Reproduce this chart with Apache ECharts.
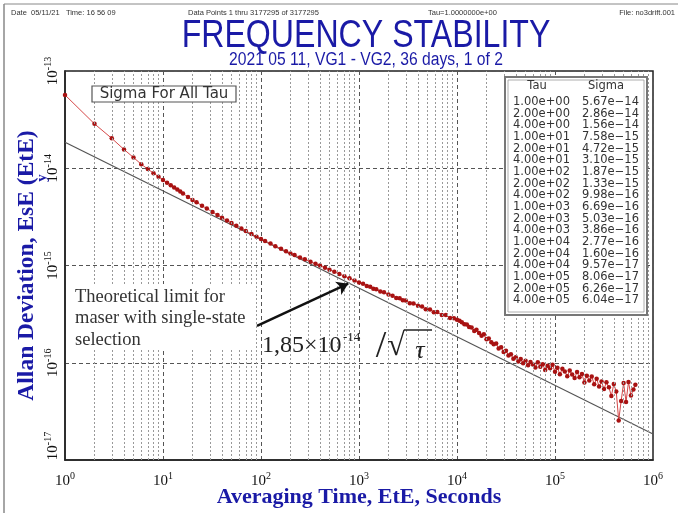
<!DOCTYPE html>
<html><head><meta charset="utf-8">
<script src="https://cdn.jsdelivr.net/npm/echarts@6/dist/echarts.min.js"></script>
<style>html,body{margin:0;padding:0;background:#fff}#c{width:678px;height:513px}</style>
</head><body><div id="c"></div>
<script>
// ---- data ----
const tau = [1,2,3,4,5,6,7,8,9,10,
 11,12,13,14,15,16,18,20,22,25,28,32,36,40,45,50,56,63,70,80,90,100,110,125,140,160,180,200,220,250,280,320,360,400,450,500,560,630,710,800,900,1000,
 1100,1200,1300,1400,1500,1650,1800,2000,2200,2400,2600,2800,3000,3300,3600,4000,4400,4800,5300,5800,6300,7000,7700,8500,9300,10000,
 10600,11200,11900,12600,13300,14100,15000,15800,16800,17800,18800,20000,21100,22400,23700,25100,26600,28200,29900,31600,33500,35500,37600,39800,42200,44700,47300,50100,53100,56200,59600,63100,66800,70800,75000,79400,84100,89100,94400,100000,
 105900,112200,118900,125900,133400,141300,149600,158500,167900,177800,188400,199500,211300,223900,237100,251200,266100,281800,298500,316200,335000,354800,375800,398100,421700,446700,473200,501200,530900,562300,595700,631000,660700];
const sigma = [5.67e-14,2.86e-14,2.03e-14,1.56e-14,1.29e-14,1.10e-14,9.8e-15,8.9e-15,8.2e-15,7.58e-15,
 7.11e-15,6.70e-15,6.34e-15,6.03e-15,5.75e-15,5.50e-15,5.07e-15,4.72e-15,4.46e-15,4.12e-15,3.85e-15,3.55e-15,3.30e-15,3.10e-15,2.90e-15,2.73e-15,2.56e-15,2.40e-15,2.27e-15,2.11e-15,1.98e-15,1.87e-15,1.79e-15,1.68e-15,1.58e-15,1.49e-15,1.40e-15,1.33e-15,1.28e-15,1.21e-15,1.16e-15,1.09e-15,1.04e-15,9.98e-16,9.48e-16,9.06e-16,8.61e-16,8.18e-16,7.77e-16,7.38e-16,7.00e-16,6.69e-16,
 6.48e-16,6.15e-16,6.05e-16,5.78e-16,5.71e-16,5.40e-16,5.31e-16,5.03e-16,4.90e-16,4.64e-16,4.60e-16,4.38e-16,4.36e-16,4.10e-16,4.06e-16,3.86e-16,3.78e-16,3.55e-16,3.53e-16,3.31e-16,3.32e-16,3.10e-16,3.09e-16,2.88e-16,2.87e-16,2.77e-16,
 2.70e-16,2.61e-16,2.49e-16,2.47e-16,2.33e-16,2.30e-16,2.12e-16,2.18e-16,2.02e-16,1.90e-16,1.96e-16,1.74e-16,1.78e-16,1.62e-16,1.55e-16,1.58e-16,1.40e-16,1.44e-16,1.29e-16,1.33e-16,1.19e-16,1.22e-16,1.10e-16,1.14e-16,1.03e-16,1.09e-16,9.86e-17,1.05e-16,9.40e-17,1.02e-16,9.58e-17,8.95e-17,1.01e-16,9.12e-17,9.65e-17,8.41e-17,9.30e-17,8.80e-17,9.52e-17,8.06e-17,
 8.90e-17,7.62e-17,8.70e-17,8.15e-17,7.28e-17,8.32e-17,7.55e-17,6.95e-17,8.05e-17,7.10e-17,7.64e-17,6.26e-17,7.35e-17,6.58e-17,7.20e-17,6.02e-17,6.85e-17,5.70e-17,6.40e-17,5.36e-17,6.30e-17,5.60e-17,4.55e-17,6.04e-17,5.05e-17,2.55e-17,4.05e-17,6.20e-17,3.95e-17,6.35e-17,4.60e-17,5.30e-17,5.95e-17];
const theoryTau = [1, 1e6];
const theorySigma = [1.85e-14, 1.85e-17];
const tableTau = ['1.00e+00','2.00e+00','4.00e+00','1.00e+01','2.00e+01','4.00e+01','1.00e+02','2.00e+02','4.00e+02','1.00e+03','2.00e+03','4.00e+03','1.00e+04','2.00e+04','4.00e+04','1.00e+05','2.00e+05','4.00e+05'];
const tableSigma = ['5.67e\u221214','2.86e\u221214','1.56e\u221214','7.58e\u221215','4.72e\u221215','3.10e\u221215','1.87e\u221215','1.33e\u221215','9.98e\u221216','6.69e\u221216','5.03e\u221216','3.86e\u221216','2.77e\u221216','1.60e\u221216','9.57e\u221217','8.06e\u221217','6.26e\u221217','6.04e\u221217'];
const xRange = [1, 1e6];
const yRange = [1e-17, 1e-13];
const arrowFrom = [91, 2.4e-16];
const arrowTo = [775, 6.5e-16];

// ---- chart ----
const BLUE = '#1a1aa6';
const SERIF = '"Liberation Serif","Times New Roman",serif';
const SANS = '"Liberation Sans",Arial,sans-serif';

const minorLines = [];
for (let k = 0; k < 6; k++) for (let m = 2; m <= 9; m++) minorLines.push({xAxis: m * Math.pow(10, k)});
for (let k = -17; k < -13; k++) for (let m = 2; m <= 9; m++) minorLines.push({yAxis: m * Math.pow(10, k)});

function supLabel(v) {
  const e = Math.round(Math.log10(v));
  return '{b|10}{s|' + e + '}';
}
function yLabel(v) {
  const e = Math.round(Math.log10(v));
  if (e === -17) return '{pad| }{b|10}{s|' + e + '}';
  return '{b|10}{s|' + e + '}';
}
const labRich = {
  b: {fontFamily: SERIF, fontSize: 15, color: '#111', lineHeight: 18, verticalAlign: 'bottom'},
  s: {fontFamily: SERIF, fontSize: 10, color: '#111', lineHeight: 10, verticalAlign: 'top'},
  pad: {width: 28, fontSize: 10}
};

const graphics = [];
// page frame
graphics.push({type: 'line', shape: {x1: 4, y1: 4, x2: 678, y2: 4}, style: {stroke: '#888', lineWidth: 1}, z: 100});
graphics.push({type: 'line', shape: {x1: 4, y1: 4, x2: 4, y2: 513}, style: {stroke: '#888', lineWidth: 1.5}, z: 100});
// header
const hdr = (t, x, align) => ({type: 'text', x: x, y: 13, z: 100, style: {text: t, font: '7.5px ' + SANS, fill: '#333', textAlign: align, align: align, textVerticalAlign: 'middle', verticalAlign: 'middle'}});
graphics.push(hdr('Date  05/11/21   Time: 16 56 09', 11, 'left'));
graphics.push(hdr('Data Points 1 thru 3177295 of 3177295', 188, 'left'));
graphics.push(hdr('Tau=1.0000000e+00', 428, 'left'));
graphics.push(hdr('File: no3drift.001', 675, 'right'));
// title
graphics.push({type: 'text', x: 366, y: 37, scaleX: 0.845, z: 100, style: {text: 'FREQUENCY STABILITY', font: '38px ' + SANS, fill: BLUE, textAlign: 'center', align: 'center', textVerticalAlign: 'middle', verticalAlign: 'middle'}});
graphics.push({type: 'text', x: 366, y: 60, scaleX: 0.87, z: 100, style: {text: '2021 05 11, VG1 - VG2, 36 days, 1 of 2', font: '18px ' + SANS, fill: BLUE, textAlign: 'center', align: 'center', textVerticalAlign: 'middle', verticalAlign: 'middle'}});
// y subscript near axis name
graphics.push({type: 'text', x: 42, y: 178, rotation: Math.PI / 2, z: 100, style: {text: 'y', font: 'bold 15px ' + SERIF, fill: BLUE, textAlign: 'center', align: 'center', textVerticalAlign: 'middle', verticalAlign: 'middle'}});
// legend box
graphics.push({type: 'rect', shape: {x: 92, y: 86, width: 144, height: 16}, style: {fill: '#fff', stroke: '#555', lineWidth: 1.2}, z: 100});
graphics.push({type: 'text', x: 164, y: 94.5, z: 101, style: {text: 'Sigma For All Tau', font: '15px "DejaVu Sans",sans-serif', fill: '#333', textAlign: 'center', align: 'center', textVerticalAlign: 'middle', verticalAlign: 'middle'}});
// table
graphics.push({type: 'rect', shape: {x: 505, y: 77, width: 142, height: 238}, style: {fill: '#fff', stroke: '#777', lineWidth: 2}, z: 100});
graphics.push({type: 'rect', shape: {x: 508, y: 80, width: 136, height: 232}, style: {fill: 'none', stroke: '#999', lineWidth: 0.8}, z: 100});
const tfont = '11.5px "DejaVu Sans",sans-serif';
graphics.push({type: 'text', x: 537, y: 86, z: 101, style: {text: 'Tau', font: tfont, fill: '#333', textAlign: 'center', align: 'center', textVerticalAlign: 'middle', verticalAlign: 'middle'}});
graphics.push({type: 'text', x: 606, y: 86, z: 101, style: {text: 'Sigma', font: tfont, fill: '#333', textAlign: 'center', align: 'center', textVerticalAlign: 'middle', verticalAlign: 'middle'}});
tableTau.forEach((t, i) => {
  const y = 102 + i * 11.66;
  graphics.push({type: 'text', x: 513, y: y, z: 101, style: {text: t, font: tfont, fill: '#333', textAlign: 'left', align: 'left', textVerticalAlign: 'middle', verticalAlign: 'middle'}});
  graphics.push({type: 'text', x: 582, y: y, z: 101, style: {text: tableSigma[i], font: tfont, fill: '#333', textAlign: 'left', align: 'left', textVerticalAlign: 'middle', verticalAlign: 'middle'}});
});
// annotation text
graphics.push({type: 'rect', shape: {x: 67, y: 284, width: 186, height: 64}, style: {fill: '#fff'}, z: 90});
['Theoretical limit for', 'maser with single-state', 'selection'].forEach((t, i) => {
  graphics.push({type: 'text', x: 75, y: 297 + i * 21.5, z: 101, style: {text: t, font: '18.5px ' + SERIF, fill: '#333', textAlign: 'left', align: 'left', textVerticalAlign: 'middle', verticalAlign: 'middle'}});
});
// formula
graphics.push({type: 'text', x: 262, y: 358, z: 101, style: {text: '1,85\u00d710', font: '24px ' + SERIF, fill: '#222', textAlign: 'left', align: 'left', textVerticalAlign: 'bottom', verticalAlign: 'bottom'}});
graphics.push({type: 'text', x: 343, y: 338, z: 101, style: {text: '-14', font: '13px ' + SERIF, fill: '#222', textAlign: 'left', align: 'left', textVerticalAlign: 'middle', verticalAlign: 'middle'}});
graphics.push({type: 'text', x: 381, y: 347, z: 101, style: {text: '/', font: '38px ' + SERIF, fill: '#222', textAlign: 'center', align: 'center', textVerticalAlign: 'middle', verticalAlign: 'middle'}});
graphics.push({type: 'text', x: 396, y: 347, z: 101, style: {text: '\u221a', font: '32px ' + SERIF, fill: '#222', textAlign: 'center', align: 'center', textVerticalAlign: 'middle', verticalAlign: 'middle'}});
graphics.push({type: 'line', shape: {x1: 404, y1: 330, x2: 432, y2: 330}, style: {stroke: '#222', lineWidth: 1.5}, z: 101});
graphics.push({type: 'text', x: 420, y: 351, z: 101, style: {text: '\u03c4', font: 'italic 26px ' + SERIF, fill: '#222', textAlign: 'center', align: 'center', textVerticalAlign: 'middle', verticalAlign: 'middle'}});

const chart = echarts.init(document.getElementById('c'), null, {renderer: 'canvas'});
chart.setOption({
  animation: false,
  backgroundColor: '#fff',
  grid: {left: 65, right: 25, top: 71, bottom: 53, show: true, borderColor: '#222', borderWidth: 1.5, backgroundColor: '#fff', containLabel: false, outerBoundsMode: 'none'},
  xAxis: {
    type: 'log', logBase: 10, min: xRange[0], max: xRange[1],
    name: 'Averaging Time, EtE, Seconds', nameLocation: 'middle', nameGap: 26, nameMoveOverlap: false,
    nameTextStyle: {fontFamily: SERIF, fontSize: 22, fontWeight: 'bold', color: BLUE},
    axisLine: {show: true, lineStyle: {color: '#222', width: 1.5}},
    axisTick: {show: false},
    axisLabel: {formatter: supLabel, rich: labRich, margin: 11, showMinLabel: true, showMaxLabel: true},
    splitLine: {show: true, lineStyle: {color: '#555', width: 1, type: [4, 3]}}
  },
  yAxis: {
    type: 'log', logBase: 10, min: yRange[0], max: yRange[1],
    name: 'Allan Deviation, EsE (EtE)', nameLocation: 'middle', nameGap: 26, nameMoveOverlap: false,
    nameTextStyle: {fontFamily: SERIF, fontSize: 23.5, fontWeight: 'bold', color: BLUE},
    axisLine: {show: true, lineStyle: {color: '#222', width: 1.5}},
    axisTick: {show: false},
    axisLabel: {formatter: yLabel, rich: labRich, margin: 4, rotate: 90, showMinLabel: true, showMaxLabel: true},
    splitLine: {show: true, lineStyle: {color: '#555', width: 1, type: [4, 3]}}
  },
  series: [
    {type: 'line', data: [], silent: true, z: 1,
     markLine: {silent: true, symbol: 'none', label: {show: false}, animation: false,
       lineStyle: {color: '#999', width: 1, type: [2, 2]}, data: minorLines}},
    {type: 'line', data: theoryTau.map((t, i) => [t, theorySigma[i]]), z: 3, showSymbol: false, symbol: 'none',
     lineStyle: {color: '#555', width: 1.2},
     markLine: {silent: true, symbol: ['none', 'arrow'], symbolSize: 11, label: {show: false}, animation: false,
       lineStyle: {color: '#111', width: 2.5, type: 'solid'}, itemStyle: {color: '#111'},
       data: [[{coord: arrowFrom}, {coord: arrowTo}]]}},
    {type: 'line', data: tau.map((t, i) => [t, sigma[i]]), z: 4, symbol: 'circle', symbolSize: 4.5, showSymbol: true,
     lineStyle: {color: '#d64848', width: 1}, itemStyle: {color: '#a81212'}}
  ],
  graphic: graphics
});
</script></body></html>
